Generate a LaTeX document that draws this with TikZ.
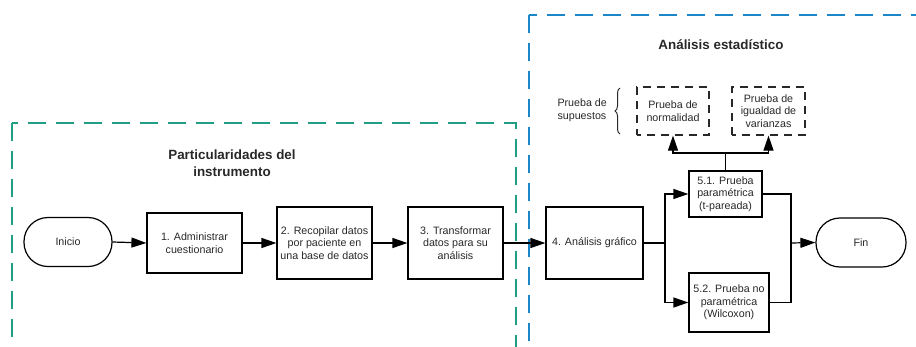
\documentclass[tikz,border=0pt]{standalone}
\usepackage{fontspec}
\setmainfont{Liberation Sans}
\usetikzlibrary{arrows.meta,decorations.pathreplacing}
\definecolor{grpgreen}{RGB}{32,158,134}
\definecolor{grpblue}{RGB}{28,134,200}
\definecolor{ink}{RGB}{40,40,40}
\begin{document}
\begin{tikzpicture}[x=1pt,y=-1pt,
  txt/.style={font=\fontsize{10.7}{12.5}\selectfont, text=ink, align=center},
  stepbox/.style={txt, draw=black, line width=1.2pt, inner sep=2pt},
  term/.style={stepbox, rounded corners=24pt},
  testbox/.style={txt, draw=ink, line width=1.2pt, dash pattern=on 8pt off 6pt, dash phase=4pt, inner sep=2pt},
  titletxt/.style={font=\fontsize{13.4}{17}\selectfont\bfseries, text=ink, align=center},
  conn/.style={line width=1.2pt, draw=black},
  arr/.style={line width=1.2pt, draw=black, arrows={-Triangle[length=15pt,width=10pt]}},
  group/.style={line width=1.8pt, dash pattern=on 18pt off 10pt}
]
\useasboundingbox (0,0) rectangle (916,346);
\begin{scope}
\clip (0,0) rectangle (916,346);
\draw[group, draw=grpgreen] (12,123) rectangle (516,420);
\draw[group, draw=grpblue] (529,15) rectangle (940,420);
\end{scope}

\node[titletxt] (t1) at (232,163) {Particularidades del\\instrumento};
\node[titletxt] (t2) at (721,45) {Análisis estadístico};

\node[term, minimum width=88pt, minimum height=49pt] (ini) at (68,242) {Inicio};
\node[stepbox, minimum width=95pt, minimum height=60pt] (b1) at (194.5,243) {1. Administrar\\cuestionario};
\node[stepbox, minimum width=95pt, minimum height=72pt] (b2) at (324.5,243) {2. Recopilar datos\\por paciente en\\una base de datos};
\node[stepbox, minimum width=95pt, minimum height=72pt] (b3) at (455.5,243) {3. Transformar\\datos para su\\análisis};
\node[stepbox, minimum width=97pt, minimum height=72pt] (b4) at (594.5,243) {4. Análisis gráfico};
\node[stepbox, minimum width=73pt, minimum height=46pt] (b51) at (725.5,194) {5.1. Prueba\\paramétrica\\(t-pareada)};
\node[stepbox, minimum width=80pt, minimum height=59pt] (b52) at (729,302.5) {5.2. Prueba no\\paramétrica\\(Wilcoxon)};
\node[term, minimum width=90pt, minimum height=49pt] (fin) at (861,242.5) {Fin};

\node[testbox, minimum width=72pt, minimum height=48pt] (norm) at (673,111) {Prueba de\\normalidad};
\node[testbox, minimum width=73pt, minimum height=48pt] (var) at (768.5,111) {Prueba de\\igualdad de\\varianzas};
\node[txt, align=left, anchor=west] (sup) at (554,110) {Prueba de\\supuestos};
\draw[line width=1pt, draw=ink, decorate, decoration={brace, amplitude=5pt}] (620,134) -- (620,88);

\draw[arr] (ini.east) -- (b1.west);
\draw[arr] (b1.east) -- (b2.west);
\draw[arr] (b2.east) -- (b3.west);
\draw[arr] (b3.east) -- (b4.west);

\coordinate (s) at (665,243);
\draw[conn] (b4.east) -- (s);
\draw[arr] (s) |- (b51.west);
\draw[arr] (s) |- (b52.west);

\coordinate (m) at (791,243);
\draw[conn] (b51.east) -| (m);
\draw[conn] (b52.east) -| (m);
\draw[arr] (m) -- (fin.west);

\coordinate (j) at (725.5,153);
\draw[conn] (b51.north) -- (j);
\draw[arr] (j) -| (norm.south);
\draw[arr] (j) -| (var.south);
\end{tikzpicture}
\end{document}
